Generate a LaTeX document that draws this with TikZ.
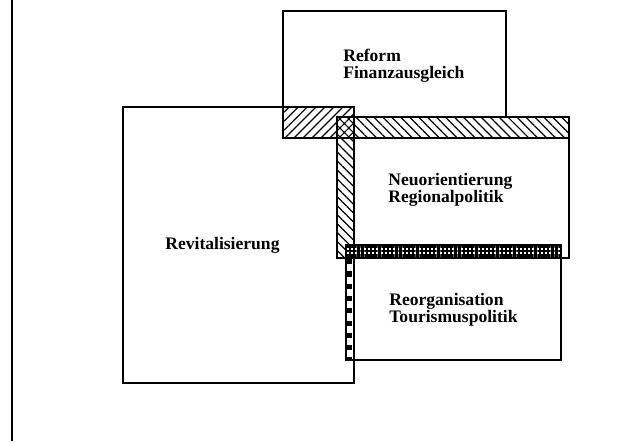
\documentclass[tikz,border=0pt]{standalone}
\usepackage{fontspec}
\setmainfont{Liberation Serif}
\usetikzlibrary{patterns.meta}

\tikzset{
  frame/.style={black, line width=0.9pt},
  box/.style={draw, black, line width=0.9pt},
  band/.style={draw, black, line width=0.9pt, preaction={fill=white}},
  ne hatch/.style={pattern={Lines[angle=45,distance=3.6pt,line width=0.7pt]}},
  nw hatch/.style={pattern={Lines[angle=-45,distance=3.6pt,line width=0.7pt]}},
  cross hatch/.style={pattern={Hatch[angle=45,distance=3.6pt,line width=0.6pt]}},
  grid hatch/.style={pattern={Hatch[angle=0,distance=2.4pt,line width=1.3pt]}},
  label text/.style={anchor=west, align=left, font=\bfseries\fontsize{10}{9.8}\selectfont, inner sep=0pt}
}

\begin{document}
\begin{tikzpicture}[x=0.02cm, y=-0.02cm]
\useasboundingbox (0,0) rectangle (640,441);

\draw[frame] (12,0) -- (12,441);

% the four fields
\draw[box] (123,107) rectangle (354,383);
\draw[box] (283,11) rectangle (506,138);
\draw[box] (337,117) rectangle (569,258);
\draw[box] (346,245) rectangle (561,360);

% overlaps
\draw[band, ne hatch] (283,107) rectangle (354,138);
\draw[band, nw hatch] (337,117) rectangle (569,138);
\draw[band, nw hatch] (337,117) rectangle (354,258);
\draw[band, cross hatch] (337,117) rectangle (354,138);
\draw[band, grid hatch] (346,245) rectangle (561,258);
\draw[band] (346,258) rectangle (354,360);
\draw[black, line width=3pt, dash pattern=on 3pt off 4pt] (349,259) -- (349,359);

% labels
\node[label text] (reform) at (343,65.5) {Reform\\Finanzausgleich};
\node[label text] (neu) at (388,190) {Neuorientierung\\Regionalpolitik};
\node[label text] (revit) at (165,245) {Revitalisierung};
\node[label text] (reorg) at (389,310) {Reorganisation\\Tourismuspolitik};

\end{tikzpicture}
\end{document}
